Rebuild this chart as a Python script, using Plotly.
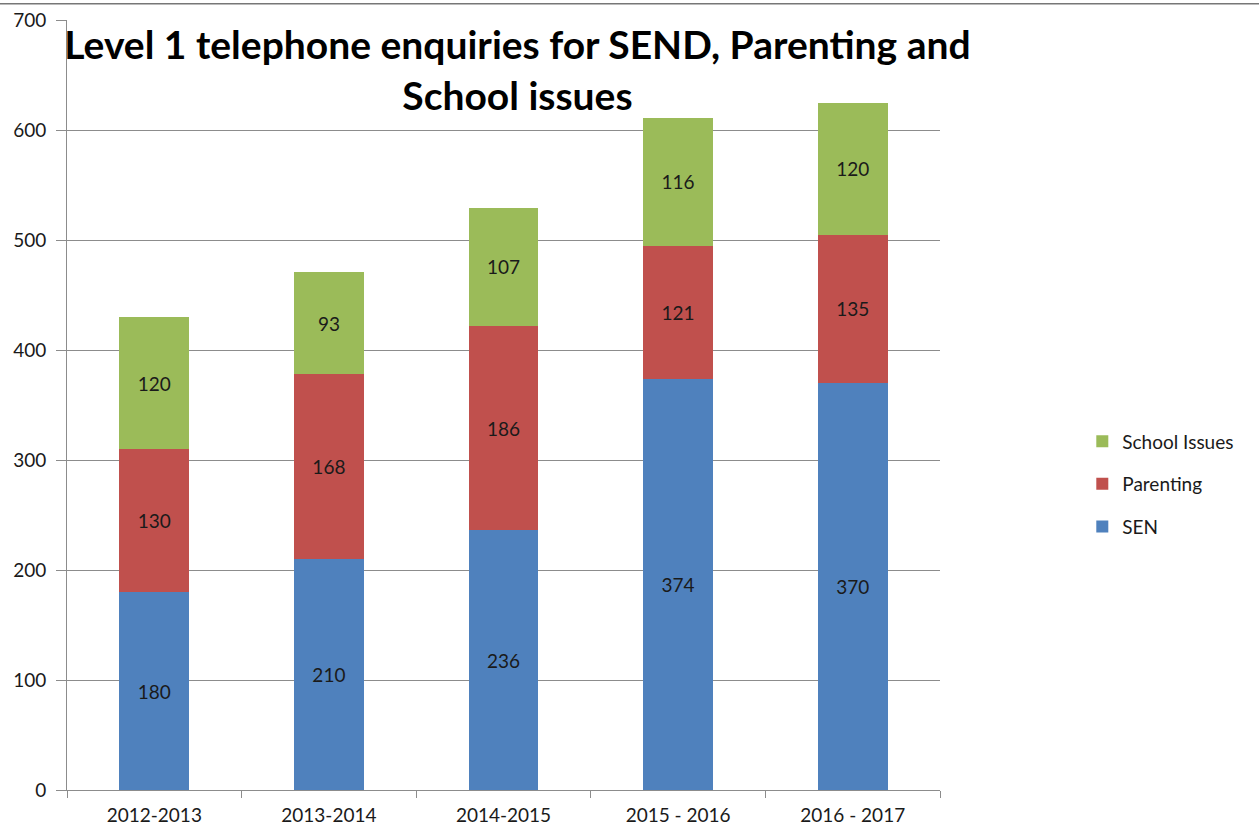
import plotly.graph_objects as go

years = ["2012-2013", "2013-2014", "2014-2015", "2015 - 2016", "2016 - 2017"]
sen = [180, 210, 236, 374, 370]
parenting = [130, 168, 186, 121, 135]
school_issues = [120, 93, 107, 116, 120]

# (name, values, colour, legend position)
series = [
    ("SEN", sen, "#4F81BD", 3),
    ("Parenting", parenting, "#C0504D", 2),
    ("School Issues", school_issues, "#9BBB59", 1),
]

FONT = "Lato, 'Open Sans', sans-serif"
GRID = "#8c8c8c"
TXT = "#1a1a1a"

fig = go.Figure()
for name, vals, colour, rank in series:
    fig.add_trace(go.Bar(
        name=name,
        legendgroup=name,
        legendrank=rank,
        x=years,
        y=vals,
        marker=dict(color=colour, line=dict(width=0)),
        text=vals,
        textposition="inside",
        insidetextanchor="middle",
        textangle=0,
        textfont=dict(family=FONT, size=19, color=TXT),
    ))

fig.update_layout(
    barmode="stack",
    bargap=0.6,
    width=1259,
    height=832,
    margin=dict(l=67, r=319, t=20, b=42),
    paper_bgcolor="white",
    plot_bgcolor="white",
    font=dict(family=FONT, size=19, color=TXT),
    title=dict(
        text="<b>Level 1 telephone enquiries for SEND, Parenting and<br>School issues</b>",
        font=dict(family=FONT, size=39, color="black"),
        x=0.411, xanchor="center",
        y=0.929, yanchor="middle",
    ),
    legend=dict(
        x=1.163, xanchor="left",
        y=0.397, yanchor="middle",
        traceorder="grouped",
        font=dict(family=FONT, size=19, color=TXT),
        itemwidth=30,
        tracegroupgap=15,
    ),
    xaxis=dict(
        automargin=False,
        showline=True, linecolor=GRID, linewidth=1,
        ticks="outside", ticklen=7, tickcolor=GRID,
        tickson="boundaries",
        ticklabelstandoff=8,
        tickfont=dict(family=FONT, size=19, color=TXT),
        showgrid=False,
    ),
    yaxis=dict(
        automargin=False,
        range=[0, 700],
        dtick=100,
        showline=True, linecolor=GRID, linewidth=1,
        ticks="outside", ticklen=10, tickcolor=GRID,
        ticklabelstandoff=6,
        showgrid=True, gridcolor=GRID, gridwidth=1,
        tickfont=dict(family=FONT, size=19, color=TXT),
        zeroline=False,
    ),
    shapes=[dict(
        type="line", xref="paper", yref="paper",
        x0=-0.08, x1=1.37, y0=1.021, y1=1.021,
        line=dict(color="#777777", width=1.5),
    )],
)

fig.write_html("out.html")
